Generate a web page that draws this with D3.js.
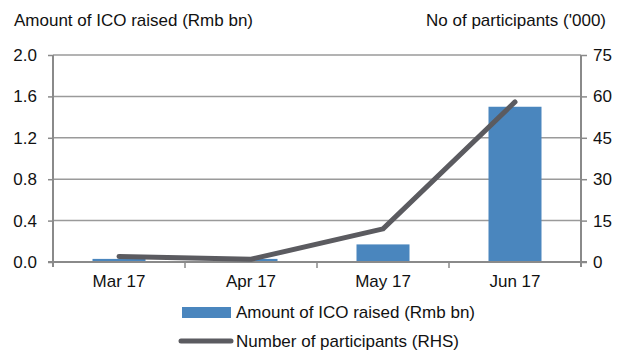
<!DOCTYPE html>
<html>
<head>
<meta charset="utf-8">
<script src="https://cdn.jsdelivr.net/npm/d3@7"></script>
<style>
  html, body { margin: 0; padding: 0; background: #fff; }
  svg { display: block; }
  text { font-family: "Liberation Sans", Arial, sans-serif; fill: #111; }
</style>
</head>
<body>
<svg id="chart" width="623" height="350"></svg>
<script>
// Monthly ICO activity in China, 2017
const months = ["Mar 17", "Apr 17", "May 17", "Jun 17"];
const amountRaised = [0.03, 0.03, 0.17, 1.5];      // Rmb bn (LHS)
const participants = [2, 1, 12, 58];               // '000 (RHS)
const leftTicks = [0, 0.4, 0.8, 1.2, 1.6, 2.0];
const rightTicks = [0, 15, 30, 45, 60, 75];

const svg = d3.select("#chart");
const m = { left: 53, right: 581, top: 55, bottom: 262 };

const x = d3.scaleBand().domain(months).range([m.left, m.right]).paddingInner(0.6).paddingOuter(0.3);
const xOuter = d3.scaleBand().domain(months).range([m.left, m.right]);
const yL = d3.scaleLinear().domain([0, 2]).range([m.bottom, m.top]);
const yR = d3.scaleLinear().domain([0, 75]).range([m.bottom, m.top]);

const gridColor = "#9a9a9a";

// horizontal gridlines
svg.append("g").selectAll("line").data(leftTicks.slice(1)).join("line")
  .attr("x1", m.left).attr("x2", m.right)
  .attr("y1", d => yL(d)).attr("y2", d => yL(d))
  .attr("stroke", gridColor).attr("stroke-width", 1.5);

// bars
const barW = 53;
svg.append("g").selectAll("rect").data(months).join("rect")
  .attr("x", (d) => xOuter(d) + xOuter.bandwidth() / 2 - barW / 2)
  .attr("width", barW)
  .attr("y", (d, i) => yL(amountRaised[i]))
  .attr("height", (d, i) => yL(0) - yL(amountRaised[i]))
  .attr("fill", "#4a86be");

// left axis
const leftAxis = svg.append("g").attr("transform", `translate(${m.left},0)`)
  .call(d3.axisLeft(yL).tickValues(leftTicks).tickFormat(d3.format(".1f")).tickSize(5).tickPadding(11));
// right axis
const rightAxis = svg.append("g").attr("transform", `translate(${m.right},0)`)
  .call(d3.axisRight(yR).tickValues(rightTicks).tickSize(6).tickPadding(6));
// bottom axis with ticks between categories
const bottomAxis = svg.append("g").attr("transform", `translate(0,${m.bottom})`)
  .call(d3.axisBottom(xOuter).tickSize(0).tickPadding(13));

[leftAxis, rightAxis, bottomAxis].forEach(g => {
  g.select(".domain").attr("stroke", "#8a8a8a").attr("stroke-width", 2);
  g.selectAll(".tick line").attr("stroke", "#8a8a8a").attr("stroke-width", 1.5);
  g.selectAll(".tick text").style("font-size", "17px").style("font-family", "'Liberation Sans', Arial, sans-serif").attr("fill", "#111");
});
rightAxis.select(".domain").attr("d", `M0,${m.top}V${m.bottom + 5}`);
leftAxis.select(".domain").attr("d", `M0,${m.top}V${m.bottom + 5}`);
bottomAxis.select(".domain").attr("d", `M${m.left - 5},0H${m.right + 6}`);

// category separator ticks
svg.append("g").selectAll("line").data(months.slice(1)).join("line")
  .attr("x1", d => xOuter(d)).attr("x2", d => xOuter(d))
  .attr("y1", m.bottom).attr("y2", m.bottom + 6)
  .attr("stroke", "#8a8a8a").attr("stroke-width", 1.5);

// participants line (RHS)
const line = d3.line()
  .x((d, i) => xOuter(months[i]) + xOuter.bandwidth() / 2)
  .y(d => yR(d));
svg.append("path").datum(participants)
  .attr("d", line)
  .attr("fill", "none")
  .attr("stroke", "#5b5b60")
  .attr("stroke-width", 5)
  .attr("stroke-linecap", "round")
  .attr("stroke-linejoin", "round");

// axis titles
svg.append("text").attr("x", 14).attr("y", 26).style("font-size", "17px")
  .text("Amount of ICO raised (Rmb bn)");
svg.append("text").attr("x", 606).attr("y", 26).attr("text-anchor", "end").style("font-size", "17px")
  .text("No of participants ('000)");

// legend
const lg = svg.append("g");
lg.append("rect").attr("x", 182).attr("y", 307).attr("width", 49).attr("height", 11).attr("fill", "#4a86be");
lg.append("text").attr("x", 236).attr("y", 318).style("font-size", "17px").text("Amount of ICO raised (Rmb bn)");
lg.append("line").attr("x1", 181).attr("x2", 231).attr("y1", 341).attr("y2", 341)
  .attr("stroke", "#5b5b60").attr("stroke-width", 5).attr("stroke-linecap", "round");
lg.append("text").attr("x", 236).attr("y", 347).style("font-size", "17px").text("Number of participants (RHS)");
</script>
</body>
</html>
